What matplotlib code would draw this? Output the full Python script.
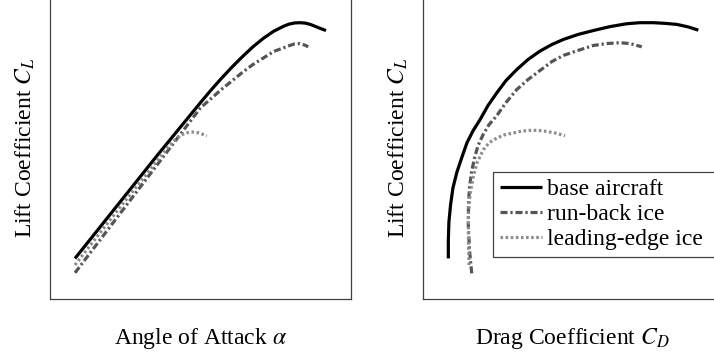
import matplotlib
matplotlib.use("Agg")
import matplotlib.pyplot as plt

plt.rcParams["font.family"] = "serif"
plt.rcParams["font.serif"] = ["Liberation Serif", "DejaVu Serif"]
plt.rcParams["mathtext.fontset"] = "stix"

# Lift curves: angle of attack (deg) vs lift coefficient
base_alpha = [-4, 0, 4, 8, 9, 10, 11, 12, 13, 14, 15, 16, 16.5, 17, 17.5, 18, 18.5, 19, 19.5, 20]
base_cl = [-0.20, 0.20, 0.60, 0.99, 1.085, 1.175, 1.26, 1.34, 1.415, 1.48, 1.535, 1.575,
           1.59, 1.598, 1.60, 1.597, 1.587, 1.571, 1.555, 1.54]

runback_alpha = [-4, 0, 4, 8, 9, 10, 11, 12, 13, 14, 15, 16, 16.5, 17, 17.5, 18, 18.3]
runback_cl = [-0.31, 0.11, 0.53, 0.95, 1.02, 1.09, 1.155, 1.22, 1.28, 1.33, 1.38, 1.41,
              1.425, 1.438, 1.44, 1.428, 1.416]

leading_alpha = [-4, 0, 4, 5, 5.5, 6, 6.5, 7, 7.5, 8, 8.6]
leading_cl = [-0.25, 0.16, 0.56, 0.66, 0.70, 0.735, 0.755, 0.765, 0.765, 0.755, 0.735]

# Drag polars: drag coefficient vs lift coefficient
base_cd = [0.0170, 0.0170, 0.0174, 0.0185, 0.0201, 0.0228, 0.0260, 0.0295, 0.0336,
           0.0383, 0.0436, 0.0495, 0.0557, 0.0629, 0.0705, 0.0785, 0.0866, 0.0942,
           0.1040, 0.1143, 0.1255, 0.1367, 0.1456, 0.1546, 0.1624, 0.1703, 0.1779, 0.1848]
base_cl_polar = [-0.200, -0.059, 0.079, 0.209, 0.339, 0.461, 0.569, 0.683, 0.775,
                 0.860, 0.967, 1.064, 1.158, 1.242, 1.319, 1.383, 1.434, 1.472,
                 1.510, 1.540, 1.570, 1.592, 1.600, 1.600, 1.595, 1.587, 1.568, 1.543]

runback_cd = [0.0327, 0.0312, 0.0304, 0.0305, 0.0312, 0.0326, 0.0346, 0.0369, 0.0403,
              0.0443, 0.0495, 0.0557, 0.0629, 0.0705, 0.0785, 0.0866, 0.0942, 0.1040,
              0.1143, 0.1235, 0.1322, 0.1389, 0.1468]
runback_cl_polar = [-0.314, -0.136, 0.056, 0.209, 0.339, 0.461, 0.569, 0.660, 0.745,
                    0.821, 0.890, 0.990, 1.089, 1.166, 1.235, 1.304, 1.350, 1.388,
                    1.426, 1.441, 1.447, 1.441, 1.416]

leading_cd = [0.0309, 0.0305, 0.0305, 0.0315, 0.0336, 0.0362, 0.0405, 0.0443, 0.0495,
              0.0550, 0.0606, 0.0658, 0.0718, 0.0772, 0.0830, 0.0893, 0.0953]
leading_cl_polar = [-0.251, -0.059, 0.132, 0.285, 0.415, 0.530, 0.630, 0.683, 0.719,
                    0.745, 0.758, 0.771, 0.778, 0.778, 0.770, 0.756, 0.737]

series_names = ["base aircraft", "run-back ice", "leading-edge ice"]

styles = [
    dict(color="black", lw=2.3, linestyle="-"),
    dict(color="#555555", lw=2.3, linestyle=(0, (2.2, 0.9, 0.7, 0.9))),
    dict(color="#8c8c8c", lw=2.3, linestyle=(0, (0.8, 0.8))),
]

fig = plt.figure(figsize=(7.14, 3.58), dpi=100)
ax1 = fig.add_axes([50 / 714, 59.5 / 358, 301 / 714, 302 / 358])
ax2 = fig.add_axes([423 / 714, 59.5 / 358, 298 / 714, 302 / 358])

for (x, y), st in zip([(base_alpha, base_cl), (runback_alpha, runback_cl),
                       (leading_alpha, leading_cl)], styles):
    ax1.plot(x, y, solid_capstyle="butt", dash_capstyle="butt",
             solid_joinstyle="round", **st)

lines = []
for (x, y), st, name in zip([(base_cd, base_cl_polar), (runback_cd, runback_cl_polar),
                             (leading_cd, leading_cl_polar)], styles, series_names):
    ln, = ax2.plot(x, y, solid_capstyle="butt", dash_capstyle="butt",
                   solid_joinstyle="round", label=name, **st)
    lines.append(ln)

ax1.set_xlim(-6.39, 22.39)
ax1.set_ylim(-0.506, 1.80)
ax2.set_xlim(0.0, 0.2)
ax2.set_ylim(-0.506, 1.80)

for ax in (ax1, ax2):
    ax.set_xticks([])
    ax.set_yticks([])
    for sp in ax.spines.values():
        sp.set_color("0.25")
        sp.set_linewidth(0.9)

ax1.set_xlabel(r"Angle of Attack $\alpha$", fontsize=17, labelpad=20)
ax1.set_ylabel(r"Lift Coefficient $C_L$", fontsize=17, labelpad=9)
ax2.set_xlabel(r"Drag Coefficient $C_D$", fontsize=17, labelpad=20)
ax2.set_ylabel(r"Lift Coefficient $C_L$", fontsize=17, labelpad=9)

# Legend box anchored at its upper-left corner, running past the right edge
leg_top = 1 - 171.7 / 358
leg = fig.legend(handles=lines, loc="upper left",
                 bbox_to_anchor=(492.7 / 714, leg_top - 0.3, 240 / 714, 0.3),
                 mode="expand",
                 borderaxespad=0, fontsize=17, frameon=True, fancybox=False,
                 framealpha=1, edgecolor="0.25", handlelength=1.8,
                 handletextpad=0.2, borderpad=0.3, labelspacing=0.14)
leg.get_frame().set_linewidth(0.9)

fig.savefig("out.png", dpi=100)
